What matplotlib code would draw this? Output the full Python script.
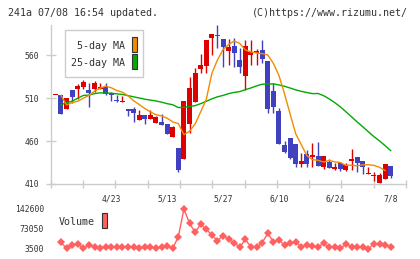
import numpy as np
import pandas as pd
import matplotlib
matplotlib.use("Agg")
import matplotlib.pyplot as plt
from matplotlib.patches import Rectangle

# candles, one per trading day (index 0 .. 60)
opens = [513, 513, 497.6, 519, 521, 523, 519, 520.5, 520, 523,
         516, 508, 505, 497, 497, 484, 490, 486, 481.5, 482.5,
         480, 465, 452, 439.4, 480, 505.7, 543.7, 547.6, 580, 583,
         579, 565, 570.5, 554, 536, 560.4, 562, 565.8, 553, 518,
         495, 455.3, 463.5, 456.5, 433.3, 445, 441.7, 442.6, 429.4, 436,
         427.4, 434.8, 426.3, 436.7, 441, 436.7, 422, 419.7, 411.5, 415.5,
         431]
highs = [513, 513, 510, 519, 526, 531, 527, 529.5, 527, 527.5,
         516.5, 513, 512, 497.5, 499, 496, 490, 495.5, 489, 491,
         480, 477.5, 452, 506.5, 534.4, 544.5, 561, 577.4, 584.4, 595,
         579, 579, 579.4, 568, 578, 577.4, 566.6, 577.4, 553, 527,
         498, 460, 463.5, 456.5, 446.4, 449.5, 457.3, 458.5, 442.6, 438.7,
         434, 434.8, 434, 450.7, 441, 436.7, 430, 424.3, 422.4, 433.3,
         431]
lows = [513, 491, 497.6, 504, 509, 521, 499, 517, 520, 513.5,
        507, 505, 505, 489, 482.5, 484, 480, 486, 481.5, 478.6,
        468.5, 465, 424, 439.4, 469, 505.7, 538.7, 538.7, 560, 568,
        546, 548, 546.4, 538.7, 519.3, 548.4, 548.4, 550.3, 492.2, 493,
        457, 446.4, 439, 429.4, 430, 430, 430, 430.9, 427.8, 428.2,
        426.3, 425.5, 425.5, 426.3, 424.3, 421.3, 421.3, 413.8, 411.5, 415.5,
        416.6]
closes = [513, 491, 510, 511, 524, 529, 516, 527, 523, 514.6,
          513, 506, 506, 495, 492, 490, 486, 490, 488, 478.6,
          468.5, 476, 426.3, 506.5, 521.6, 539.4, 548.4, 577.4, 584.4, 582,
          569, 569, 562.7, 546.4, 570.5, 563.5, 564.7, 555.7, 497.2, 500,
          457, 447.6, 440.6, 433.3, 436.7, 433.3, 443.7, 430.9, 442.6, 428.2,
          429.4, 427.1, 432, 439, 434, 430, 423.2, 420.9, 420.5, 433.3,
          419.7]
# volume starts on day 1
volumes = [26800, 5900, 17400, 20900, 5900, 17400, 11500, 5900, 11500, 11500,
           9400, 9400, 11500, 9400, 7000, 9400, 9400, 5900, 9400, 13900,
           5900, 46300, 142600, 92900, 61600, 89400, 72000, 52200, 32400, 49800,
           37200, 25400, 9400, 37200, 9400, 9400, 25400, 58100, 28900, 34800,
           17400, 23300, 28900, 9400, 17400, 13900, 11500, 23300, 9400, 9400,
           5900, 19800, 11500, 9400, 9400, 3500, 20900, 20900, 17400, 11500]
date_labels = ["4/23", "5/13", "5/27", "6/10", "6/24", "7/8"]
date_pos = [10, 20, 30, 40, 50, 60]
price_ticks = [410, 460, 510, 560]
vol_ticks = [3500, 73050, 142600]

W, H = 420, 259
RED = "#dd0000"
BLUE = "#4040c0"
ORANGE = "#f08c00"
GREEN = "#00aa00"
VOLC = "#ff6060"
GRAY = "#cccccc"
TXT = "#333333"
MONO = "DejaVu Sans Mono"

def fx(px):
    return px / W

def fy(py):
    return 1 - py / H

fig = plt.figure(figsize=(W / 100, H / 100), dpi=100)

days = np.arange(len(closes))
o = np.array(opens)
c = np.array(closes)
up = c >= o
xlim = (-0.84, 62.74)

# main candle chart
ax = fig.add_axes([fx(50.7), fy(184), fx(406) - fx(50.7), fy(25) - fy(184)])
ax.set_xlim(*xlim)
ax.set_ylim(410, 594.9)
cols = np.where(up, RED, BLUE)
ax.vlines(days, lows, highs, colors=cols, lw=1, zorder=2)
bottom = np.minimum(o, c)
height = np.maximum(np.abs(c - o), 1.2)
ax.bar(days, height, bottom=bottom, width=0.9, color=cols, lw=0, zorder=3)

s = pd.Series(closes)
ma5 = s.rolling(5, min_periods=1).mean().to_numpy()
ma25 = s.rolling(25, min_periods=1).mean().to_numpy()
ax.plot(days[1:], ma25[1:], color=GREEN, lw=1, zorder=4)
# the site draws the 5-day line one day late
ax.plot(days[1:60], ma5[:59], color=ORANGE, lw=1, zorder=4)

for side in ["top", "right"]:
    ax.spines[side].set_visible(False)
for side in ["left", "bottom"]:
    ax.spines[side].set_color(GRAY)
    ax.spines[side].set_linewidth(1)
ax.set_yticks(price_ticks)
ax.set_yticklabels([str(v) for v in price_ticks], fontsize=5.8, family=MONO, color=TXT)
ax.tick_params(axis="y", direction="inout", length=6.5, width=1, color=GRAY, pad=5.2)
ax.set_xticks(date_pos)
ax.set_xticklabels(date_labels, fontsize=5.8, family=MONO, color=TXT)
ax.set_xticks(np.linspace(xlim[0], xlim[1], 12), minor=True)
ax.tick_params(axis="x", which="major", length=0, pad=7.5)
ax.tick_params(axis="x", which="minor", direction="inout", length=5.8, width=1, color=GRAY)

# volume panel
vax = fig.add_axes([fx(50.7), fy(249), fx(406) - fx(50.7), fy(209) - fy(249)])
vax.set_xlim(*xlim)
vax.set_ylim(3500, 142600)
vax.plot(days[1:], volumes, color=VOLC, lw=1, marker="D", ms=4.3, mew=0, clip_on=False)
for side in vax.spines:
    vax.spines[side].set_visible(False)
vax.set_xticks([])
vax.set_yticks(vol_ticks)
vax.set_yticklabels([str(v) for v in vol_ticks], fontsize=5.8, family=MONO, color=TXT)
vax.tick_params(axis="y", length=0, pad=4.8)

# legends
fig.add_artist(Rectangle((fx(65), fy(77)), fx(143) - fx(65), fy(30) - fy(77),
                         transform=fig.transFigure, fc="white", ec=GRAY, lw=1, zorder=10))
fig.text(fx(125), fy(46), "5-day MA", ha="right", va="center", fontsize=7.2, family=MONO, color=TXT, zorder=11)
fig.text(fx(125), fy(63), "25-day MA", ha="right", va="center", fontsize=7.2, family=MONO, color=TXT, zorder=11)
fig.add_artist(Rectangle((fx(131.7), fy(51.7)), fx(5.6), fy(0) - fy(15),
                         transform=fig.transFigure, fc=ORANGE, ec="#333333", lw=0.8, zorder=11))
fig.add_artist(Rectangle((fx(131.7), fy(69.3)), fx(5.6), fy(0) - fy(15),
                         transform=fig.transFigure, fc=GREEN, ec="#333333", lw=0.8, zorder=11))
fig.text(fx(58.7), fy(222), "Volume", ha="left", va="center", fontsize=7.2, family=MONO, color=TXT)
fig.add_artist(Rectangle((fx(101.7), fy(228)), fx(5.6), fy(0) - fy(15),
                         transform=fig.transFigure, fc=VOLC, ec="#333333", lw=0.8))

# header
fig.text(fx(8), fy(13), "241a 07/08 16:54 updated.", ha="left", va="center", fontsize=7.2, family=MONO, color=TXT)
fig.text(fx(408), fy(13), "(C)https://www.rizumu.net/", ha="right", va="center", fontsize=7.2, family=MONO, color=TXT)

fig.savefig("out.png", dpi=100)
